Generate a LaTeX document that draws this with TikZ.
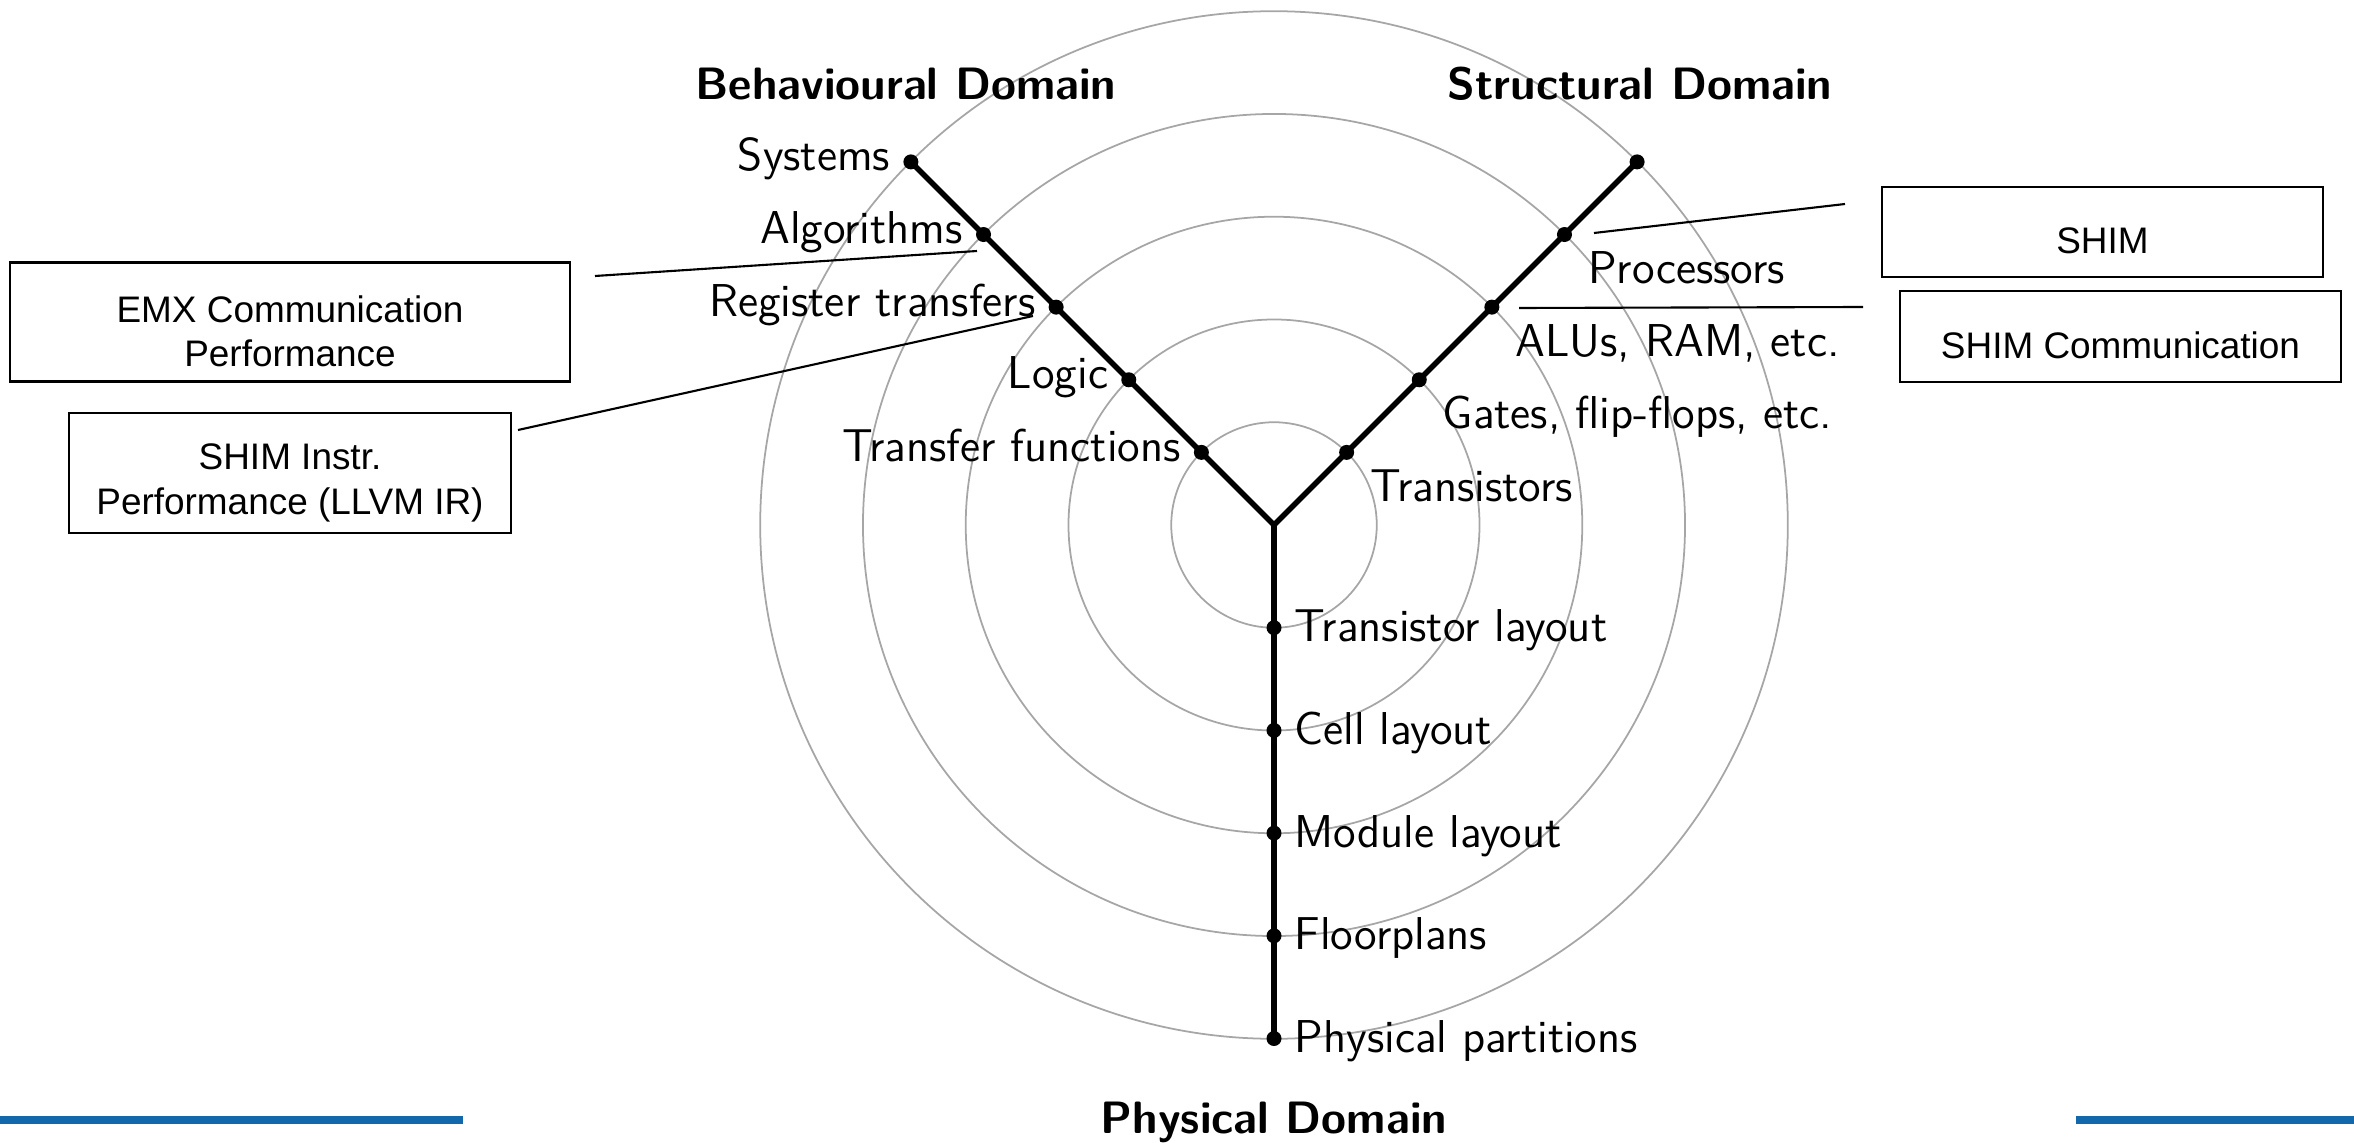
\documentclass[tikz,border=0pt]{standalone}
\usepackage{fontspec}
\newfontfamily\boxfont{Liberation Sans}
\usetikzlibrary{calc}
\definecolor{barblue}{RGB}{18,104,170}
\begin{document}
\begin{tikzpicture}[x=0.01cm,y=-0.01cm,
  ring/.style={draw=gray!70, line width=0.5pt},
  axis/.style={line width=1.6pt, draw=black},
  lvl/.style={font=\sffamily\fontsize{13.1}{15}\selectfont, inner sep=0pt},
  domtitle/.style={font=\sffamily\bfseries\fontsize{12.9}{15}\selectfont, inner sep=0pt},
  notebox/.style={draw=black, line width=0.6pt, fill=white, inner sep=0pt},
  notetext/.style={align=center, inner sep=0pt,
    font=\boxfont\fontsize{10.5}{12.6}\selectfont},
  link/.style={line width=0.6pt, draw=black}]
\useasboundingbox (0,0) rectangle (2354,1143);

% centre of the Y chart and the five abstraction rings
\coordinate (O) at (1274,525);
\foreach \k [evaluate=\k as \r using \k*1.027] in {1,...,5}
  \draw[ring] (O) circle[radius=\r cm];

% level points on the three axes
\foreach \k in {1,...,5} {
  \coordinate (b\k) at ($(O)+(225:\k*102.7)$);
  \coordinate (s\k) at ($(O)+(315:\k*102.7)$);
  \coordinate (p\k) at ($(O)+(90:\k*102.7)$);
}
\draw[axis] (O) -- (b5);
\draw[axis] (O) -- (s5);
\draw[axis] (O) -- (p5);
\foreach \k in {1,...,5} {
  \fill (b\k) circle (0.075cm);
  \fill (s\k) circle (0.075cm);
  \fill (p\k) circle (0.075cm);
}

% domain titles
\node[domtitle, anchor=base] (tb) at (906,100) {Behavioural Domain};
\node[domtitle, anchor=base] (ts) at (1640,100) {Structural Domain};
\node[domtitle, anchor=base] (tp) at (1274,1133) {Physical Domain};

% behavioural levels
\node[lvl, anchor=base east] (lb5) at ($(b5)+(-20,9)$) {Systems};
\node[lvl, anchor=base east] (lb4) at ($(b4)+(-20,9)$) {Algorithms};
\node[lvl, anchor=base east] (lb3) at ($(b3)+(-20,9)$) {Register transfers};
\node[lvl, anchor=base east] (lb2) at ($(b2)+(-20,9)$) {Logic};
\node[lvl, anchor=base east] (lb1) at ($(b1)+(-20,9)$) {Transfer functions};

% structural levels
\node[lvl, anchor=base west] (ls4) at ($(s4)+(23,49)$) {Processors};
\node[lvl, anchor=base west] (ls3) at ($(s3)+(23,49)$) {ALUs, RAM, etc.};
\node[lvl, anchor=base west] (ls2) at ($(s2)+(23,49)$) {Gates, flip-flops, etc.};
\node[lvl, anchor=base west] (ls1) at ($(s1)+(23,49)$) {Transistors};

% physical levels
\node[lvl, anchor=base west] (lp1) at ($(p1)+(20,14)$) {Transistor layout};
\node[lvl, anchor=base west] (lp2) at ($(p2)+(20,14)$) {Cell layout};
\node[lvl, anchor=base west] (lp3) at ($(p3)+(20,14)$) {Module layout};
\node[lvl, anchor=base west] (lp4) at ($(p4)+(20,14)$) {Floorplans};
\node[lvl, anchor=base west] (lp5) at ($(p5)+(20,14)$) {Physical partitions};

% annotation boxes, text set a little below the box centre
\node[notebox, minimum width=5.6cm, minimum height=1.19cm] (emx) at (290,322) {};
\node[notetext] (emx-t) at ($(emx.center)+(0,9)$) {EMX Communication\\Performance};
\node[notebox, minimum width=4.42cm, minimum height=1.2cm] (shimi) at (290,473) {};
\node[notetext] (shimi-t) at ($(shimi.center)+(0,10)$) {SHIM Instr.\\Performance (LLVM IR)};
\node[notebox, minimum width=4.41cm, minimum height=0.9cm] (shim) at (2102.5,232) {};
\node[notetext] (shim-t) at ($(shim.center)+(0,9)$) {SHIM};
\node[notebox, minimum width=4.41cm, minimum height=0.91cm] (shimc) at (2120.5,336.5) {};
\node[notetext] (shimc-t) at ($(shimc.center)+(0,9)$) {SHIM Communication};

% leader lines
\coordinate (emx-a) at (595,276);   \coordinate (emx-b) at (977,251);
\coordinate (shimi-a) at (518,430); \coordinate (shimi-b) at (1033,316);
\coordinate (shim-a) at (1845,204); \coordinate (shim-b) at (1594,233);
\coordinate (shimc-a) at (1863,307); \coordinate (shimc-b) at (1519,308);
\draw[link] (emx-a) -- (emx-b);
\draw[link] (shimi-a) -- (shimi-b);
\draw[link] (shim-a) -- (shim-b);
\draw[link] (shimc-a) -- (shimc-b);

% slide rule bars
\fill[barblue] (0,1116) rectangle (463,1124);
\fill[barblue] (2076,1116) rectangle (2354,1124);
\end{tikzpicture}
\end{document}
